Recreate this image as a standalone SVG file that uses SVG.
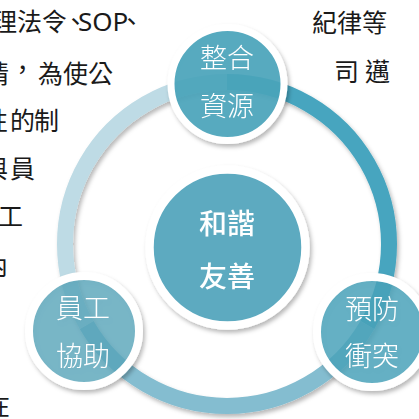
<svg xmlns="http://www.w3.org/2000/svg" width="419" height="419" viewBox="0 0 419 419">
  <defs>
    <filter id="sh" x="-20%" y="-20%" width="140%" height="140%">
      <feDropShadow dx="2" dy="3" stdDeviation="2" flood-color="#000" flood-opacity="0.28"/>
    </filter>
  </defs>
  <style>
    .bg { font-family: "Noto Sans CJK TC", "Noto Sans", sans-serif; font-size: 25px; fill: #1a1a1a; }
    .lat { font-family: "Noto Sans", "Open Sans", sans-serif; font-size: 26px; }
    .ring { fill: none; stroke-width: 16; }
    .node circle { stroke: #ffffff; }
    .lbl { font-family: "Noto Sans CJK TC", sans-serif; font-size: 27px; font-weight: 300; fill: #ffffff; text-anchor: middle; }
    .clbl { font-family: "Noto Sans CJK TC", sans-serif; font-size: 28px; font-weight: 500; fill: #ffffff; text-anchor: middle; }
  </style>
  <rect width="419" height="419" fill="#ffffff"/>

  <g id="background-text" class="bg">
    <text y="31"><tspan x="-8">理法令</tspan><tspan x="63">、</tspan><tspan x="78" class="lat">SOP</tspan><tspan x="119">、</tspan></text>
    <text y="83"><tspan x="-16">情</tspan><tspan x="10" y="79">，</tspan><tspan x="38" y="83">為使公</tspan></text>
    <text y="130" x="-17 10 34">性的制</text>
    <text y="178" x="-17 10">與員</text>
    <text y="226" x="-2">工</text>
    <text y="275" x="-17">內</text>
    <text y="415" x="-15">在</text>
    <text y="32" x="312">紀律等</text>
    <text y="81" x="334 365">司邁</text>
  </g>

  <g id="connectors" filter="url(#sh)">
    <path class="ring" stroke="#46a5bf" d="M 227 82 A 162 162 0 0 1 367.3 325"/>
    <path class="ring" stroke="#84bdd0" d="M 367.3 325 A 162 162 0 0 1 86.7 325"/>
    <path class="ring" stroke="#bedbe5" d="M 86.7 325 A 162 162 0 0 1 227 82"/>
  </g>

  <g id="node-center" class="node" filter="url(#sh)">
    <circle cx="227.5" cy="247.5" r="78" fill="#5daac0" stroke-width="8.5"/>
    <text class="clbl" x="227" y="234">和諧</text>
    <text class="clbl" x="227" y="287">友善</text>
  </g>

  <g id="node-top" class="node" filter="url(#sh)">
    <circle cx="227.5" cy="84" r="56.5" fill="#4aa5bd" fill-opacity="0.9" stroke-width="7"/>
    <text class="lbl" x="227" y="68">整合</text>
    <text class="lbl" x="227" y="116">資源</text>
  </g>

  <g id="node-right" class="node" filter="url(#sh)">
    <circle cx="372" cy="332" r="55" fill="#4aa5bd" fill-opacity="0.8" stroke-width="8"/>
    <text class="lbl" x="372" y="319">預防</text>
    <text class="lbl" x="372" y="366">衝突</text>
  </g>

  <g id="node-left" class="node" filter="url(#sh)">
    <circle cx="84" cy="331" r="55" fill="#5aa8be" fill-opacity="0.75" stroke-width="8"/>
    <text class="lbl" x="83" y="318">員工</text>
    <text class="lbl" x="83" y="366">協助</text>
  </g>
</svg>
